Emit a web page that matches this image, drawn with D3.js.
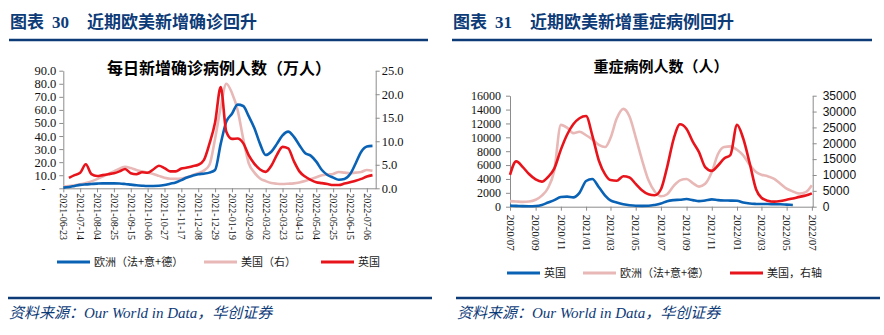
<!DOCTYPE html>
<html>
<head>
<meta charset="utf-8">
<script src="https://cdn.jsdelivr.net/npm/d3@7"></script>
<style>
  body { margin: 0; background: #fff; }
  svg text { font-family: "Liberation Serif", "Times New Roman", serif; }
</style>
</head>
<body>
<svg id="fig" width="884" height="335"></svg>
<script>
// ---------- data: chart 30, daily new cases (weekly readings), 万人 ----------
// weekly dates starting 2021-06-23
const caseDates = d3.timeDay.range(new Date(2021, 5, 23), new Date(2022, 6, 14), 7);
const caseTicks = d3.timeDay.range(new Date(2021, 5, 23), new Date(2022, 6, 7), 21);

const europeCases = [0.5, 1, 1.8, 2.6, 3, 3.3, 3.6, 3.8, 3.8, 3.8, 3.7, 3.3, 2.8, 2.3, 2.0, 1.8,
  1.8, 1.9, 2.5, 3.5, 4.5, 6.3, 8.3, 9.7, 10.8, 11.2, 12, 14, 34, 51, 57, 64, 63, 55, 46, 34,
  25.5, 28, 34, 40.5, 43.4, 39.5, 33, 27, 25, 20.4, 14, 10.2, 8.2, 6.6, 7.1, 10.7, 19, 28, 32, 32.5];
const usCases = [1.3, 1.8, 2.3, 3, 4, 5.3, 7, 9, 11, 13, 15, 16.5, 15.5, 14, 13, 12,
  11, 9.5, 8, 7.3, 7.2, 7.5, 8.5, 10, 11.5, 13.5, 18, 38, 62, 80, 73, 60, 38, 19, 12, 7.5,
  5.5, 4, 3.5, 3.3, 3.5, 3.8, 4.5, 5.5, 7, 8.5, 10, 10.5, 11, 12.5, 12, 11.5, 12, 12.5, 14, 13.5];
// right axis
const ukCases = [null, 2.2, 2.8, 3.3, 5.1, 3.0, 2.6, 2.8, 3.0, 3.2, 3.6, 4.1, 3.2, 3.0, 3.4, 3.3,
  4.0, 4.8, 4.3, 3.6, 3.6, 4.2, 4.4, 4.7, 5.0, 6.0, 9.5, 14, 21.5, 12, 10.5, 10.6, 9.6, 7.0, 5.2, 4.0,
  3.5, 4.8, 7.1, 8.8, 8.5, 5.8, 3.6, 2.5, 1.8, 1.3, 1.1, 0.9, 0.7, 0.7, 1.0, 1.3, 1.6, 2.0, 2.5, 2.8];

// ---------- data: chart 31, severe cases (half-monthly readings), 人 ----------
const icuDates = d3.timeMonth.range(new Date(2020, 6, 1), new Date(2022, 6, 2))
  .flatMap(m => [m, d3.timeDay.offset(m, 15)]).slice(0, 49);
const icuTicks = d3.timeMonth.range(new Date(2020, 6, 1), new Date(2022, 6, 2), 2);

const ukIcu = [150, 120, 80, 70, 100, 250, 600, 950, 1400, 1450, 1350, 2000, 3700, 4000, 2800, 1600,
  900, 600, 350, 200, 130, 120, 130, 250, 450, 800, 950, 1000, 1100, 950, 800, 900, 1050, 950,
  900, 880, 850, 600, 450, 400, 380, 380, 360, 350, 300, 250, null, null, null];
const europeIcu = [800, 750, 700, 750, 1000, 1600, 2700, 5200, 11800, 11400, 10600, 10800, 10300, 9700,
  8900, 8600, 9900, 12700, 14100, 13000, 10000, 6800, 3800, 2200, 1500, 1800, 3000, 3800, 4000, 3400,
  2900, 3300, 5000, 7600, 8600, 8700, 8200, 7400, 6000, 5000, 4600, 4400, 4000, 3300, 2600, 2200,
  1900, 2100, 3100];
// right axis
const usIcu = [10000, 14300, 12500, 10300, 8600, 7900, 9400, 12000, 18000, 22700, 26000, 27900, 28600,
  22500, 14500, 10200, 8400, 8200, 9600, 9200, 7200, 5200, 3900, 3600, 5500, 12500, 21500, 26000,
  24500, 20500, 17200, 12500, 11300, 13000, 15200, 16300, 25800, 21500, 13500, 5500, 2800, 1900,
  1600, 1800, 2200, 2600, 3100, 3500, 4200];

const colBlue = "#0a62b5", colPink = "#e8b8b7", colRed = "#e8141c";
const navy = "#0d3b78";
const cjk = '"Noto Sans CJK SC", "Noto Sans", sans-serif';

const svg = d3.select("#fig");

// ---------- frame: headers, rules, sources ----------
function frame(x0, x1, num, title, srcX, srcX1) {
  const h = svg.append("g");
  h.append("text").attr("x", x0).attr("y", 28).text("图表")
    .style("font-family", cjk).style("font-weight", "bold").style("font-size", "17px").attr("fill", navy);
  h.append("text").attr("x", x0 + 42).attr("y", 28).text(num)
    .style("font-weight", "bold").style("font-size", "17px").attr("fill", navy);
  h.append("text").attr("x", x0 + 77).attr("y", 28).text(title)
    .style("font-family", cjk).style("font-weight", "bold").style("font-size", "17px").attr("fill", navy);
  h.append("line").attr("x1", x0 - 1).attr("x2", x1).attr("y1", 40).attr("y2", 40)
    .attr("stroke", navy).attr("stroke-width", 2.5);
  h.append("line").attr("x1", srcX - 1).attr("x2", srcX1).attr("y1", 298).attr("y2", 298)
    .attr("stroke", navy).attr("stroke-width", 2.5);
  const s = h.append("text").attr("x", srcX).attr("y", 318).attr("fill", navy)
    .style("font-style", "italic").style("font-size", "15px");
  s.append("tspan").text("资料来源：").style("font-family", cjk);
  s.append("tspan").text("Our World in Data");
  s.append("tspan").text("，华创证券").style("font-family", cjk);
}
frame(10, 428, "30", "近期欧美新增确诊回升", 9, 432);
frame(453, 872, "31", "近期欧美新增重症病例回升", 457, 880);

function styleAxis(g, size) {
  g.select(".domain").attr("stroke", "#8c8c8c");
  g.selectAll(".tick line").attr("stroke", "#8c8c8c");
  g.selectAll("text").style("font-size", size).attr("fill", "#111");
}

function rotateLabels(g, offset) {
  g.selectAll(".tick text")
    .attr("transform", "rotate(90)")
    .attr("x", offset).attr("y", 0).attr("dy", "0.35em")
    .style("text-anchor", "start");
}

function drawLine(g, dates, values, x, y, color) {
  const line = d3.line()
    .defined(d => d[1] != null)
    .x(d => x(d[0])).y(d => y(d[1]))
    .curve(d3.curveMonotoneX);
  g.append("path").datum(dates.map((d, i) => [d, values[i]]))
    .attr("d", line).attr("fill", "none").attr("stroke", color)
    .attr("stroke-width", 2.6).attr("stroke-linejoin", "round");
}

function legend(items, y) {
  const g = svg.append("g");
  items.forEach(it => {
    g.append("line").attr("x1", it.x).attr("x2", it.x + 33).attr("y1", y).attr("y2", y)
      .attr("stroke", it.color).attr("stroke-width", 3);
    g.append("text").attr("x", it.x + 37).attr("y", y).attr("dy", "0.36em").text(it.label)
      .style("font-family", cjk).style("font-size", "11px").attr("fill", "#222");
  });
}

// ---------- chart 30 ----------
{
  const x = d3.scaleTime().domain([new Date(2021, 5, 23), new Date(2022, 6, 17)]).range([63.3, 375.7]);
  const yL = d3.scaleLinear().domain([0, 90]).range([188.3, 70.7]);
  const yR = d3.scaleLinear().domain([0, 25]).range([188.3, 70.7]);
  const g = svg.append("g");

  const ax = g.append("g").attr("transform", "translate(0,188.3)")
    .call(d3.axisBottom(x).tickValues(caseTicks).tickFormat(d3.timeFormat("%Y-%m-%d"))
      .tickSize(4).tickSizeOuter(0));
  styleAxis(ax, "10px");
  rotateLabels(ax, 5);

  const al = g.append("g").attr("transform", "translate(63.3,0)")
    .call(d3.axisLeft(yL).tickValues(d3.range(0, 91, 10))
      .tickFormat(d => d === 0 ? "-" : d.toFixed(1)).tickSize(4).tickPadding(3).tickSizeOuter(0));
  styleAxis(al, "12.5px");
  al.selectAll(".tick text").filter(d => d === 0).attr("x", -18);

  const ar = g.append("g").attr("transform", "translate(375.7,0)")
    .call(d3.axisRight(yR).tickValues(d3.range(0, 26, 5)).tickFormat(d3.format(".1f"))
      .tickSize(4).tickPadding(2).tickSizeOuter(0));
  styleAxis(ar, "12.5px");

  drawLine(g, caseDates, usCases, x, yL, colPink);
  drawLine(g, caseDates, europeCases, x, yL, colBlue);
  drawLine(g, caseDates, ukCases, x, yR, colRed);

  g.append("text").attr("x", 219).attr("y", 74).attr("text-anchor", "middle")
    .text("每日新增确诊病例人数（万人）")
    .style("font-family", cjk).style("font-weight", "bold").style("font-size", "16px");

  legend([
    { x: 57, color: colBlue, label: "欧洲（法+意+德）" },
    { x: 204, color: colPink, label: "美国（右）" },
    { x: 321, color: colRed, label: "英国" }
  ], 262);
}

// ---------- chart 31 ----------
{
  const x = d3.scaleTime().domain([new Date(2020, 6, 1), new Date(2022, 6, 3)]).range([510, 812.7]);
  const yL = d3.scaleLinear().domain([0, 16000]).range([206.7, 95.7]);
  const yR = d3.scaleLinear().domain([0, 35000]).range([206.7, 95.7]);
  const g = svg.append("g");

  const ax = g.append("g").attr("transform", "translate(0,206.7)")
    .call(d3.axisBottom(x).tickValues(icuTicks).tickFormat(d3.timeFormat("%Y/%m"))
      .tickSize(4).tickSizeOuter(0));
  styleAxis(ax, "11px");
  rotateLabels(ax, 8);

  const al = g.append("g").attr("transform", "translate(510,0)")
    .call(d3.axisLeft(yL).tickValues(d3.range(0, 16001, 2000)).tickFormat(d3.format("d"))
      .tickSize(4).tickPadding(5).tickSizeOuter(0));
  styleAxis(al, "12px");

  const ar = g.append("g").attr("transform", "translate(812.7,0)")
    .call(d3.axisRight(yR).tickValues(d3.range(0, 35001, 5000)).tickFormat(d3.format("d"))
      .tickSize(4).tickPadding(6).tickSizeOuter(0));
  styleAxis(ar, "12px");
  ar.selectAll("text").style("font-family", '"Liberation Sans", Arial, sans-serif');

  drawLine(g, icuDates, europeIcu, x, yL, colPink);
  drawLine(g, icuDates, ukIcu, x, yL, colBlue);
  drawLine(g, icuDates, usIcu, x, yR, colRed);

  g.append("text").attr("x", 661).attr("y", 72).attr("text-anchor", "middle")
    .text("重症病例人数（人）")
    .style("font-family", cjk).style("font-weight", "bold").style("font-size", "15px");

  legend([
    { x: 507, color: colBlue, label: "英国" },
    { x: 583, color: colPink, label: "欧洲（法+意+德）" },
    { x: 730, color: colRed, label: "美国，右轴" }
  ], 273);
}
</script>
</body>
</html>
